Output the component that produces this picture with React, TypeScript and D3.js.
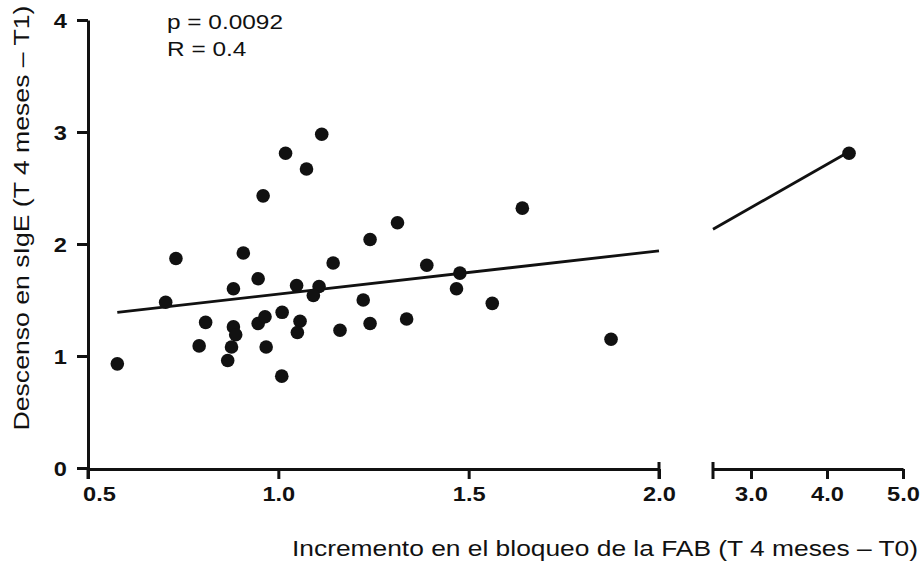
import React, { useRef, useEffect } from 'react';
import * as d3 from 'd3';

// Increment in FAB blocking (x) vs decrease in sIgE (y)
const blockIncrease = [
  1.114, 1.019, 1.074, 0.96, 0.731, 0.908, 1.241, 1.144, 0.947, 0.882,
  1.048, 1.107, 0.704, 1.092, 1.223, 0.809, 0.882, 0.888, 0.947, 0.965,
  1.01, 1.057, 1.05, 1.162, 1.241, 0.792, 0.877, 0.968, 0.867, 0.577,
  1.009, 1.641, 1.313, 1.39, 1.477, 1.468, 1.337, 1.562, 1.874, 4.29,
];
const sigeDecrease = [
  2.98, 2.81, 2.67, 2.43, 1.87, 1.92, 2.04, 1.83, 1.69, 1.6,
  1.63, 1.62, 1.48, 1.54, 1.5, 1.3, 1.26, 1.19, 1.29, 1.35,
  1.39, 1.31, 1.21, 1.23, 1.29, 1.09, 1.08, 1.08, 0.96, 0.93,
  0.82, 2.32, 2.19, 1.81, 1.74, 1.6, 1.33, 1.47, 1.15, 2.81,
];

const yTicks = [0, 1, 2, 3, 4];
const xTicksLow = [0.5, 1.0, 1.5, 2.0];
const xTicksHigh = [3.0, 4.0, 5.0];

// fitted line
const fitSlope = 0.386;
const fitIntercept = 1.167;

const statsText = ['p = 0.0092', 'R = 0.4'];
const xTitle = 'Incremento en el bloqueo de la FAB (T 4 meses – T0)';
const yTitle = 'Descenso en sIgE (T 4 meses – T1)';

const FONT = "'Liberation Sans', Arial, sans-serif";
const STRETCH = 1.18; // the original text is a bit wider than plain Arial

export default function App() {
  const svgRef = useRef<SVGSVGElement>(null);

  useEffect(() => {
    if (!svgRef.current) return;
    const svg = d3.select(svgRef.current);
    svg.selectAll('*').remove();

    const y = d3.scaleLinear().domain([0, 4]).range([468, 20]);
    const xLow = d3.scaleLinear().domain([0.5, 2.0]).range([88, 659]);
    const xHigh = d3.scaleLinear().domain([2.5, 5.0]).range([713, 903]);
    const baseY = y(0) + 1;
    const SW = 3;

    const styleAxis = (g: any) => {
      g.selectAll('path.domain').attr('stroke', '#111').attr('stroke-width', SW);
      g.selectAll('.tick line').attr('stroke', '#111').attr('stroke-width', SW);
      g.selectAll('.tick text')
        .attr('fill', '#111')
        .attr('font-family', FONT)
        .attr('font-size', 20)
        .attr('font-weight', 'bold');
    };

    // y axis
    const yAxis = svg.append('g')
      .attr('transform', `translate(${xLow(0.5)},0)`)
      .call(d3.axisLeft(y).tickValues(yTicks).tickFormat(d3.format('d')).tickSize(11).tickSizeOuter(0).tickPadding(10));
    styleAxis(yAxis);
    yAxis.selectAll('.tick text')
      .attr('dy', '0.36em')
      .attr('x', null)
      .attr('transform', `translate(-21,0) scale(${STRETCH},1)`);

    // extend the y axis down to the first x tick
    svg.append('line')
      .attr('x1', xLow(0.5)).attr('x2', xLow(0.5))
      .attr('y1', y(0)).attr('y2', baseY + 10)
      .attr('stroke', '#111').attr('stroke-width', SW);

    // x axis, left part
    const xAxisLow = svg.append('g')
      .attr('transform', `translate(0,${baseY})`)
      .call(d3.axisBottom(xLow).tickValues(xTicksLow).tickFormat(d3.format('.1f')).tickSize(10).tickSizeOuter(0).tickPadding(8));
    styleAxis(xAxisLow);

    // x axis, right part
    const xAxisHigh = svg.append('g')
      .attr('transform', `translate(0,${baseY})`)
      .call(d3.axisBottom(xHigh).tickValues(xTicksHigh).tickFormat(d3.format('.1f')).tickSize(10).tickSizeOuter(0).tickPadding(8));
    styleAxis(xAxisHigh);

    [xAxisLow, xAxisHigh].forEach(g => {
      g.selectAll('.tick text')
        .attr('transform', (d: any) => (d === 0.5 ? `translate(11,0) scale(${STRETCH},1)` : `scale(${STRETCH},1)`));
    });

    // break caps
    [xLow(2.0), xHigh(2.5)].forEach(cx => {
      svg.append('line')
        .attr('x1', cx).attr('x2', cx)
        .attr('y1', baseY - 7).attr('y2', baseY + 10)
        .attr('stroke', '#111').attr('stroke-width', SW);
    });

    // regression line, both panels
    const xMin = d3.min(blockIncrease) as number;
    const xMax = d3.max(blockIncrease) as number;
    const fit = (v: number) => fitIntercept + fitSlope * v;
    const segs: [number, number, (v: number) => number][] = [
      [xMin, 2.0, xLow],
      [2.5, xMax, xHigh],
    ];
    segs.forEach(([a, b, sx]) => {
      svg.append('line')
        .attr('x1', sx(a)).attr('y1', y(fit(a)))
        .attr('x2', sx(b)).attr('y2', y(fit(b)))
        .attr('stroke', '#111').attr('stroke-width', 2.8);
    });

    // points
    const pts = blockIncrease.map((v, i) => ({ x: v, y: sigeDecrease[i] }));
    svg.append('g')
      .selectAll('circle')
      .data(pts)
      .join('circle')
      .attr('cx', d => (d.x <= 2.0 ? xLow(d.x) : xHigh(d.x)))
      .attr('cy', d => y(d.y))
      .attr('r', 6.8)
      .attr('fill', '#111');

    // stats
    svg.append('g')
      .selectAll('text')
      .data(statsText)
      .join('text')
      .attr('transform', (_, i) => `translate(167,${29 + i * 27}) scale(1.22,1)`)
      .attr('font-family', FONT)
      .attr('font-size', 20)
      .attr('fill', '#111')
      .text(d => d);

    // axis titles
    svg.append('text')
      .attr('x', 605)
      .attr('y', 556)
      .attr('text-anchor', 'middle')
      .attr('font-family', FONT)
      .attr('font-size', 22)
      .attr('fill', '#111')
      .attr('textLength', 626)
      .attr('lengthAdjust', 'spacingAndGlyphs')
      .text(xTitle);

    svg.append('text')
      .attr('transform', 'translate(29,218) rotate(-90)')
      .attr('text-anchor', 'middle')
      .attr('font-family', FONT)
      .attr('font-size', 22)
      .attr('fill', '#111')
      .attr('textLength', 425)
      .attr('lengthAdjust', 'spacingAndGlyphs')
      .text(yTitle);
  }, []);

  return (
    <svg
      ref={svgRef}
      width={922}
      height={566}
      style={{ position: 'absolute', left: 0, top: 0, background: '#fff' }}
    />
  );
}
